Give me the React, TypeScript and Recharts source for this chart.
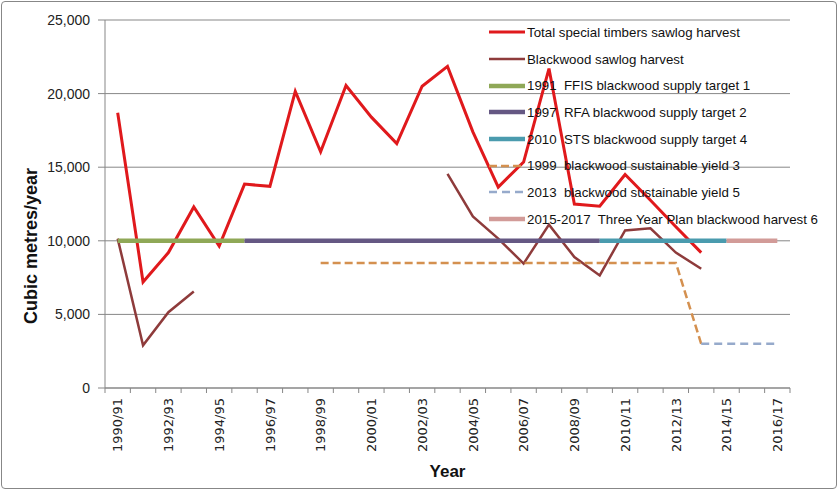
import React from "react";
import { LineChart, Line, XAxis, YAxis, CartesianGrid, Legend } from "recharts";

const N = null;

const years = [
  "1990/91", "1991/92", "1992/93", "1993/94", "1994/95", "1995/96", "1996/97",
  "1997/98", "1998/99", "1999/00", "2000/01", "2001/02", "2002/03", "2003/04",
  "2004/05", "2005/06", "2006/07", "2007/08", "2008/09", "2009/10", "2010/11",
  "2011/12", "2012/13", "2013/14", "2014/15", "2015/16", "2016/17",
];

const totalSpecial = [
  18700, 7200, 9200, 12300, 9650, 13850, 13700, 20150, 16050, 20550, 18400,
  16600, 20500, 21850, 17400, 13650, 15350, 21700, 12500, 12350, 14500, 12750,
  10950, 9200, N, N, N,
];

const blackwoodHarvest = [
  10150, 2900, 5150, 6550, N, N, N, N, N, N, N, N, N, 14550, 11650, 10150,
  8450, 11100, 8900, 7650, 10700, 10850, 9200, 8100, N, N, N,
];

const ffisTarget = [
  10000, 10000, 10000, 10000, 10000, 10000, N, N, N, N, N, N, N, N, N, N, N,
  N, N, N, N, N, N, N, N, N, N,
];

const rfaTarget = [
  N, N, N, N, N, 10000, 10000, 10000, 10000, 10000, 10000, 10000, 10000, 10000,
  10000, 10000, 10000, 10000, 10000, 10000, N, N, N, N, N, N, N,
];

const stsTarget = [
  N, N, N, N, N, N, N, N, N, N, N, N, N, N, N, N, N, N, N, 10000, 10000, 10000,
  10000, 10000, 10000, N, N,
];

const yield1999 = [
  N, N, N, N, N, N, N, N, 8500, 8500, 8500, 8500, 8500, 8500, 8500, 8500, 8500,
  8500, 8500, 8500, 8500, 8500, 8500, 3000, N, N, N,
];

const yield2013 = [
  N, N, N, N, N, N, N, N, N, N, N, N, N, N, N, N, N, N, N, N, N, N, N, 3000,
  3000, 3000, 3000,
];

const planHarvest = [
  N, N, N, N, N, N, N, N, N, N, N, N, N, N, N, N, N, N, N, N, N, N, N, N,
  10000, 10000, 10000,
];

const yTicks = [0, 5000, 10000, 15000, 20000, 25000];

const data = years.map((year, i) => ({
  year,
  total: totalSpecial[i],
  blackwood: blackwoodHarvest[i],
  ffis: ffisTarget[i],
  rfa: rfaTarget[i],
  sts: stsTarget[i],
  sy1999: yield1999[i],
  sy2013: yield2013[i],
  plan: planHarvest[i],
}));

const series = [
  { key: "total", name: "Total special timbers sawlog harvest", color: "#E0191C", width: 3, dash: undefined },
  { key: "blackwood", name: "Blackwood sawlog harvest", color: "#8E3B3B", width: 2.5, dash: undefined },
  { key: "ffis", name: "1991  FFIS blackwood supply target 1", color: "#8FA857", width: 4.5, dash: undefined },
  { key: "rfa", name: "1997  RFA blackwood supply target 2", color: "#655883", width: 4.5, dash: undefined },
  { key: "sts", name: "2010  STS blackwood supply target 4", color: "#4A9BAE", width: 4.5, dash: undefined },
  { key: "sy1999", name: "1999  blackwood sustainable yield 3", color: "#D4904F", width: 2.5, dash: "8 4" },
  { key: "sy2013", name: "2013  blackwood sustainable yield 5", color: "#96AACB", width: 2.5, dash: "8 5" },
  { key: "plan", name: "2015-2017  Three Year Plan blackwood harvest 6", color: "#D29B98", width: 4.5, dash: undefined },
];

const GRID = "#878787";
const SANS = '"Liberation Sans", Arial, sans-serif';

function XTick(props: any) {
  const { x, y, payload, index } = props;
  const half = payload && payload.offset ? payload.offset : 12.7;
  const axisY = y - 10;
  const last = index === years.length - 1;
  return (
    <g>
      <line x1={x - half} y1={axisY} x2={x - half} y2={axisY + 5} stroke={GRID} />
      {last && <line x1={x + half} y1={axisY} x2={x + half} y2={axisY + 5} stroke={GRID} />}
      {index % 2 === 0 && (
        <text
          transform={`translate(${x},${y}) rotate(-90)`}
          textAnchor="end"
          dy="0.36em"
          fontFamily='"DejaVu Sans", Verdana, sans-serif'
          fontSize={13}
          fill="#222"
        >
          {payload.value}
        </text>
      )}
    </g>
  );
}

function renderLegend() {
  return (
    <div style={{ fontFamily: SANS, fontSize: 13.3, color: "#111" }}>
      {series.map((s) => (
        <div key={s.key} style={{ height: 26.7, display: "flex", alignItems: "center", whiteSpace: "pre" }}>
          <svg width={38} height={10} style={{ flex: "none" }}>
            <line x1={0} y1={5} x2={36} y2={5} stroke={s.color} strokeWidth={s.width} strokeDasharray={s.dash} />
          </svg>
          <span>{s.name}</span>
        </div>
      ))}
    </div>
  );
}

export default function App() {
  return (
    <div style={{ position: "absolute", left: 0, top: 0, width: 838, height: 491, background: "#fff" }}>
      <div
        style={{
          position: "absolute",
          left: 1,
          top: 1,
          width: 834,
          height: 486,
          border: `1px solid ${GRID}`,
          borderRadius: 4,
        }}
      />
      <LineChart width={838} height={491} data={data} margin={{ top: 20, right: 48, bottom: 0, left: 0 }}>
        <CartesianGrid vertical={false} stroke={GRID} />
        <XAxis
          dataKey="year"
          scale="band"
          interval={0}
          height={103}
          tickLine={false}
          tickSize={5}
          tickMargin={5}
          axisLine={{ stroke: GRID }}
          tick={(p: any) => <XTick {...p} />}
          label={(p: any) => {
            const vb = p.viewBox || {};
            return (
              <text
                x={vb.x + vb.width / 2}
                y={477}
                textAnchor="middle"
                fontFamily={SANS}
                fontWeight="bold"
                fontSize={17}
                fill="#111"
              >
                Year
              </text>
            );
          }}
        />
        <YAxis
          domain={[0, 25000]}
          ticks={yTicks}
          width={105}
          tickSize={7}
          tickMargin={8}
          tickLine={{ stroke: GRID }}
          axisLine={{ stroke: GRID }}
          tick={{ fontFamily: SANS, fontSize: 14, fill: "#222" }}
          tickFormatter={(v: number) => v.toLocaleString("en-US")}
          label={() => (
            <text
              transform="translate(37,246) rotate(-90)"
              textAnchor="middle"
              fontFamily={SANS}
              fontWeight="bold"
              fontSize={18}
              fill="#111"
            >
              Cubic metres/year
            </text>
          )}
        />
        <Legend
          layout="horizontal"
          verticalAlign="middle"
          content={renderLegend}
          wrapperStyle={{ left: 489, top: 19, width: 345 }}
        />
        {series.map((s) => (
          <Line
            key={s.key}
            type="linear"
            dataKey={s.key}
            name={s.name}
            stroke={s.color}
            strokeWidth={s.width}
            strokeDasharray={s.dash}
            dot={false}
            activeDot={false}
            connectNulls={false}
            isAnimationActive={false}
          />
        ))}
      </LineChart>
    </div>
  );
}
